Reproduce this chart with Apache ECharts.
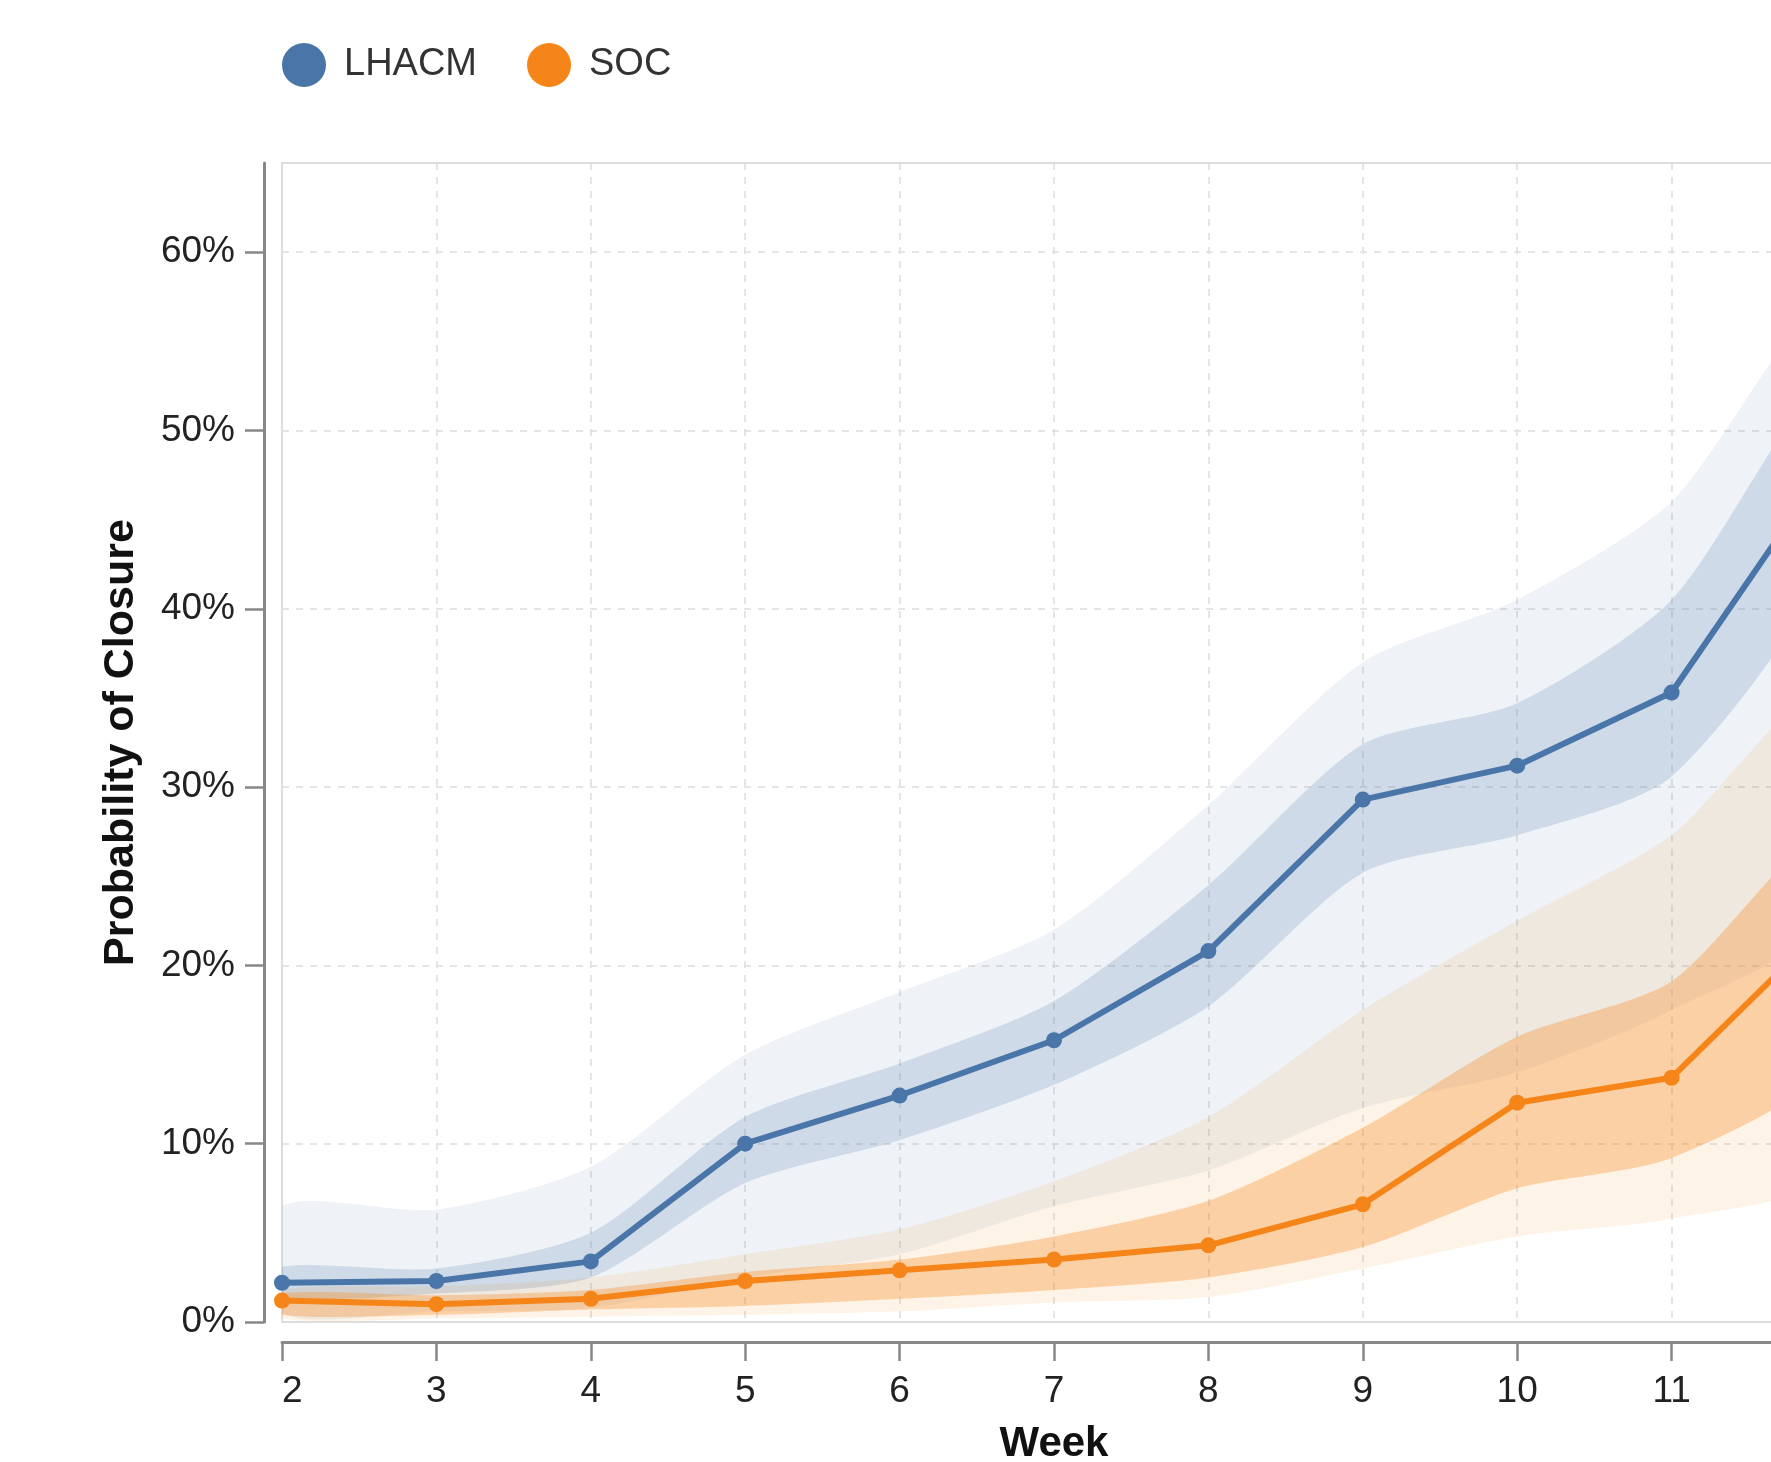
<!DOCTYPE html>
<html>
<head>
<meta charset="utf-8">
<script src="https://cdn.jsdelivr.net/npm/echarts@6/dist/echarts.min.js"></script>
<style>
html,body{margin:0;padding:0;background:#fff;}
#chart{width:1771px;height:1462px;}
</style>
</head>
<body>
<div id="chart"></div>
<script>
// ---- data ----
const weeks = [2, 3, 4, 5, 6, 7, 8, 9, 10, 11, 12];
const lhacm = [2.2, 2.3, 3.4, 10.0, 12.7, 15.8, 20.8, 29.3, 31.2, 35.3, 47.9];
const soc   = [1.2, 1.0, 1.3, 2.3, 2.9, 3.5, 4.3, 6.6, 12.3, 13.7, 22.2];

// spread of the faint posterior draws (outer = faint haze, inner = dense core)
const lhacmOuterLow  = [0.5, 0.6, 0.8, 2.5, 3.8, 6.5, 8.5, 12.0, 14.0, 17.5, 23.0];
const lhacmOuterHigh = [6.5, 6.3, 8.7, 15.0, 18.5, 22.0, 29.0, 37.0, 40.5, 46.0, 57.0];
const lhacmInnerLow  = [1.4, 1.6, 2.5, 7.8, 10.2, 13.3, 17.7, 25.2, 27.3, 30.6, 42.5];
const lhacmInnerHigh = [3.1, 3.0, 5.0, 11.5, 14.5, 18.0, 24.5, 32.4, 34.7, 40.5, 53.0];

const socOuterLow  = [0.2, 0.2, 0.3, 0.4, 0.6, 1.1, 1.4, 3.0, 4.8, 5.8, 8.5];
const socOuterHigh = [1.8, 2.0, 2.5, 3.8, 5.2, 7.9, 11.5, 17.5, 22.5, 27.3, 35.5];
const socInnerLow  = [0.4, 0.4, 0.7, 0.9, 1.3, 1.8, 2.5, 4.2, 7.5, 9.2, 14.5];
const socInnerHigh = [1.6, 1.5, 1.8, 2.8, 3.5, 4.8, 6.8, 10.9, 16.0, 19.1, 27.5];

const yTicks = [0, 10, 20, 30, 40, 50, 60];
const seriesNames = ['LHACM', 'SOC'];

// ---- styling ----
const BLUE = '#4a75a8';
const ORANGE = '#f58518';
const FONT = '"Liberation Sans", Arial, Helvetica, sans-serif';

// band drawn as one polygon through the axes' own coordinate conversion
function band(id, low, high, color) {
  return {
    type: 'custom', name: id, silent: true, clip: true, z: 1,
    data: [[weeks[0], low[0]]],
    renderItem: function (params, api) {
      const top = weeks.map((w, i) => api.coord([w, high[i]]));
      const bottom = weeks.map((w, i) => api.coord([w, low[i]])).reverse();
      return {
        type: 'polygon',
        shape: { points: top.concat(bottom), smooth: 0.25 },
        style: { fill: color }
      };
    }
  };
}

const chart = echarts.init(document.getElementById('chart'), null, { renderer: 'canvas' });

const option = {
  backgroundColor: '#ffffff',
  animation: false,
  textStyle: { fontFamily: FONT },
  legend: {
    data: seriesNames,
    left: 277, top: 38,
    icon: 'circle',
    itemWidth: 70, itemHeight: 44, itemGap: 50,
    textStyle: { fontSize: 38, color: '#333', fontFamily: FONT }
  },
  grid: {
    left: 282, top: 163, right: -55, bottom: 140,
    show: true, borderColor: '#dddddd', borderWidth: 2,
    containLabel: false, outerBoundsMode: 'none'
  },
  xAxis: {
    type: 'value', min: 2, max: 12, interval: 1, offset: 20,
    axisLine: { show: true, onZero: false, lineStyle: { color: '#888', width: 3 } },
    axisTick: { show: true, length: 19, lineStyle: { color: '#888', width: 2.5 } },
    axisLabel: { fontSize: 37, color: '#222', margin: 31, fontFamily: FONT, alignMinLabel: 'left' },
    splitLine: { show: true, lineStyle: { color: '#dddddd', type: [7, 7], width: 1.5 } },
    name: 'Week', nameLocation: 'middle', nameGap: 81, nameMoveOverlap: false,
    nameTextStyle: { fontSize: 42, fontWeight: 'bold', color: '#111', fontFamily: FONT }
  },
  yAxis: {
    type: 'value', min: 0, max: 65, interval: 10, offset: 18,
    axisLine: { show: true, onZero: false, lineStyle: { color: '#888', width: 3 } },
    axisTick: { show: true, length: 19, customValues: yTicks, lineStyle: { color: '#888', width: 2.5 } },
    axisLabel: {
      fontSize: 37, color: '#222', margin: 29, fontFamily: FONT,
      customValues: yTicks,
      formatter: v => (v % 10 === 0 ? v + '%' : '')
    },
    splitLine: { show: true, lineStyle: { color: '#dddddd', type: [7, 7], width: 1.5 } },
    name: 'Probability of Closure', nameLocation: 'middle', nameGap: 121, nameMoveOverlap: false,
    nameTextStyle: { fontSize: 43, fontWeight: 'bold', color: '#111', fontFamily: FONT }
  },
  series: [
    band('lhacmOuter', lhacmOuterLow, lhacmOuterHigh, 'rgba(76,120,168,0.09)'),
    band('lhacmInner', lhacmInnerLow, lhacmInnerHigh, 'rgba(76,120,168,0.20)'),
    band('socOuter', socOuterLow, socOuterHigh, 'rgba(245,133,24,0.10)'),
    band('socInner', socInnerLow, socInnerHigh, 'rgba(245,133,24,0.32)'),
    {
      type: 'line', name: seriesNames[0],
      data: weeks.map((w, i) => [w, lhacm[i]]),
      symbol: 'circle', symbolSize: 16, showSymbol: true,
      lineStyle: { width: 6, color: BLUE }, itemStyle: { color: BLUE }, z: 5
    },
    {
      type: 'line', name: seriesNames[1],
      data: weeks.map((w, i) => [w, soc[i]]),
      symbol: 'circle', symbolSize: 16, showSymbol: true,
      lineStyle: { width: 6, color: ORANGE }, itemStyle: { color: ORANGE }, z: 5
    }
  ]
};
chart.setOption(option);
</script>
</body>
</html>
